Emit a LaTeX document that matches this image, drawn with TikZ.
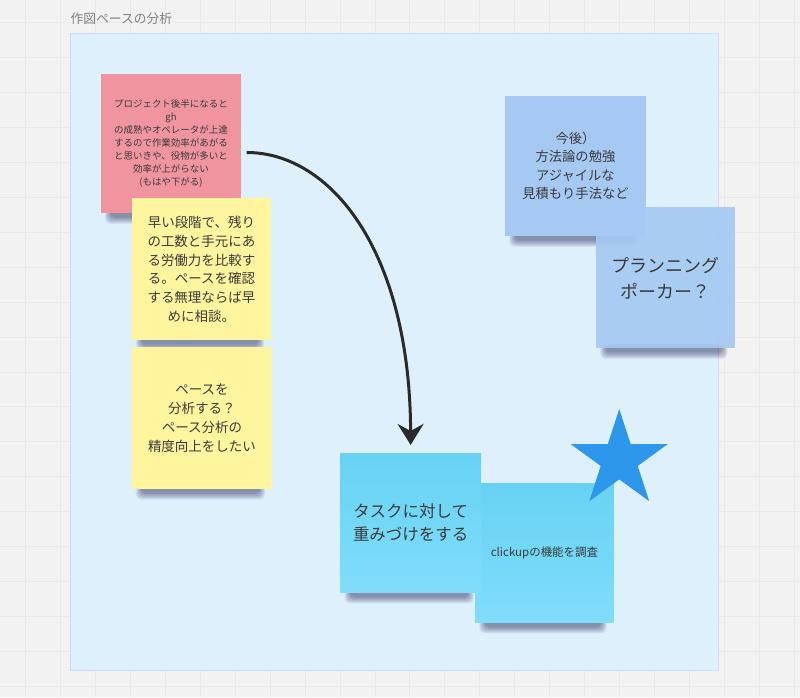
\documentclass[tikz,border=0pt]{standalone}
\usepackage{fontspec}
\setmainfont{Noto Sans CJK JP}
\usetikzlibrary{calc,arrows.meta,shapes.geometric}
\definecolor{bgc}{HTML}{F2F2F2}
\definecolor{gridc}{HTML}{E8E8E8}
\definecolor{framec}{HTML}{DFF0FD}
\definecolor{frameb}{HTML}{C8DEF0}
\definecolor{pinkc}{HTML}{F0949F}
\definecolor{yellowc}{HTML}{FFF59E}
\definecolor{bluec}{HTML}{A5C9F2}
\definecolor{cyantop}{HTML}{68D2F4}
\definecolor{cyanbot}{HTML}{80DDFA}
\definecolor{starc}{HTML}{2D97EC}
\definecolor{textc}{HTML}{3A3A3A}
\definecolor{titlec}{HTML}{808080}
\definecolor{arrc}{HTML}{2A2A2A}
\pgfdeclarelayer{bglayer}
\pgfdeclarelayer{shlayer}
\pgfsetlayers{bglayer,shlayer,main}
\newcommand\noteshadow[1]{%
  \foreach \k in {0,...,7}{%
    \fill[black!80!blue,opacity=0.06,rounded corners=5pt]
      ($(#1.south west)+(10-0.8*\k,-4)$) rectangle ($(#1.south east)+(-13+0.8*\k,4+0.9*\k)$);}}
\begin{document}
\begin{tikzpicture}[x=1pt,y=-1pt,
  note/.style={anchor=north west,inner sep=0pt,align=center,text=textc,
    minimum width=141pt,minimum height=141pt},
  cyannote/.style={note,top color=cyantop,bottom color=cyanbot,shading angle=0},
  conn/.style={draw=arrc,line width=3pt,
    -{Stealth[length=21pt,width=26pt,inset=7pt]},shorten >=8pt}]
\begin{pgfonlayer}{bglayer}
  \fill[bgc] (0,0) rectangle (800,697);
  \foreach \gx in {25,60,...,795} \draw[gridc,line width=1pt] (\gx,0) -- (\gx,697);
  \foreach \gy in {22,57,...,697} \draw[gridc,line width=1pt] (0,\gy) -- (800,\gy);
  \node[anchor=west,inner sep=0pt,text=titlec,font=\fontsize{12.8}{15}\selectfont] (title) at (70,18) {作図ペースの分析};
  \draw[frameb,fill=framec,line width=1pt] (70,33) rectangle (719,671);
\end{pgfonlayer}
\useasboundingbox (0,0) rectangle (800,697);

\node[note,fill=pinkc,minimum width=141pt,minimum height=140pt,
  font=\fontsize{9.5}{13}\selectfont] (pink) at (100,73)
  {プロジェクト後半になると\\gh\\の成熟やオペレータが上達\\するので作業効率があがる\\と思いきや、役物が多いと\\効率が上がらない\\(もはや下がる)};
\node[note,fill=yellowc,minimum width=140pt,minimum height=142pt,
  font=\fontsize{13.5}{18.8}\selectfont] (early) at (131,198)
  {早い段階で、残り\\の工数と手元にあ\\る労働力を比較す\\る。ペースを確認\\する無理ならば早\\めに相談。};
\node[note,fill=yellowc,minimum width=141pt,minimum height=142pt,
  font=\fontsize{13.5}{19}\selectfont] (pace) at (131,347)
  {ペースを\\分析する？\\ペース分析の\\精度向上をしたい};
\node[note,fill=bluec,minimum width=141pt,minimum height=141pt,
  font=\fontsize{13.3}{18.3}\selectfont] (future) at (505,95)
  {今後）\\方法論の勉強\\アジャイルな\\見積もり手法など};
\node[note,fill=bluec,fill opacity=0.92,text opacity=1,minimum width=139pt,minimum height=141pt,
  font=\fontsize{18}{26}\selectfont] (poker) at (596,207)
  {プランニング\\ポーカー？};
\node[cyannote,minimum width=139pt,minimum height=140pt,
  font=\fontsize{11.5}{14}\selectfont] (clickup) at (475,483)
  {clickupの機能を調査};
\node[cyannote,minimum width=141pt,minimum height=140pt,
  font=\fontsize{16.5}{23}\selectfont] (task) at (340,453)
  {タスクに対して\\重みづけをする};
\node[star,star points=5,star point ratio=2.618,fill=starc,draw=none,
  minimum size=102pt,inner sep=0pt] (star) at (619.5,460) {};

\begin{pgfonlayer}{shlayer}
  \noteshadow{pink}
  \noteshadow{early}
  \noteshadow{pace}
  \noteshadow{future}
  \noteshadow{poker}
  \noteshadow{task}
  \noteshadow{clickup}
\end{pgfonlayer}

\coordinate (as) at ($(pink.east)+(5,9)$);
\draw[conn] (as) .. controls (330,152) and (410,250) .. (task.north);
\end{tikzpicture}
\end{document}
